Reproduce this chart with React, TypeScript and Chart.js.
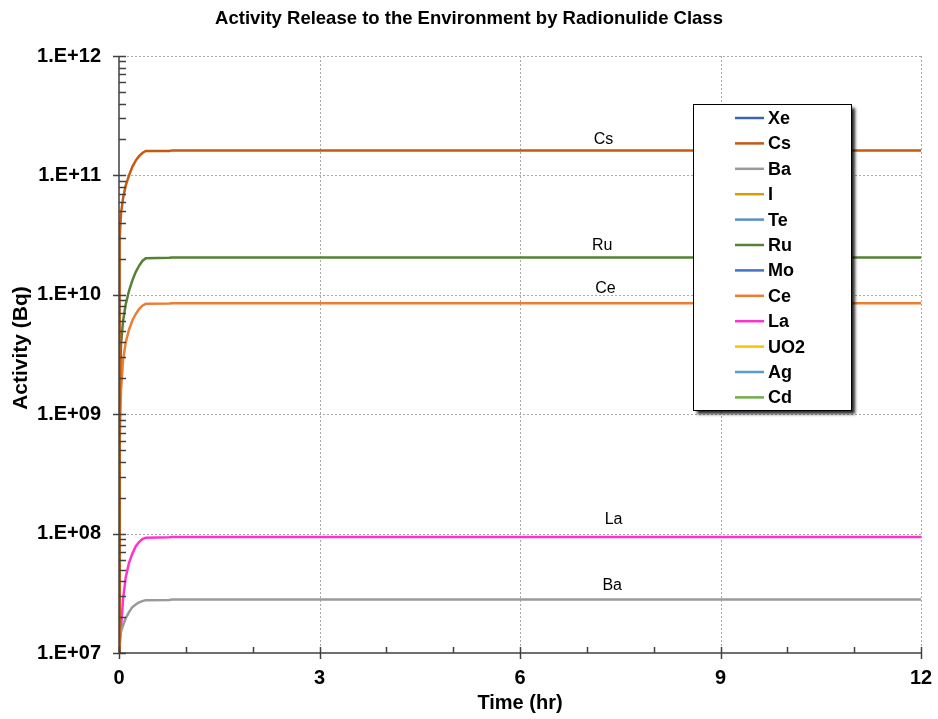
import React, { useEffect, useRef } from "react";
import { Chart, registerables } from "chart.js";

Chart.register(...registerables);

const FONT = "'Liberation Sans', Arial, Helvetica, sans-serif";

const chartTitle = "Activity Release to the Environment by Radionulide Class";
const xAxisTitle = "Time (hr)";
const yAxisTitle = "Activity (Bq)";

const xTicks = [0, 3, 6, 9, 12];
const yTicks = [1e7, 1e8, 1e9, 1e10, 1e11, 1e12];

const timeHr = [0, 0.01, 0.03, 0.06, 0.1, 0.15, 0.2, 0.25, 0.3, 0.35, 0.4, 0.75, 0.8, 12];

const seriesNames = ["Xe", "Cs", "Ba", "I", "Te", "Ru", "Mo", "Ce", "La", "UO2", "Ag", "Cd"];
const seriesColors = [
  "#3B64B4", "#C55A11", "#9A9A9A", "#D4A000", "#5A8FCB", "#548235",
  "#4472C4", "#ED7D31", "#FF33CC", "#FFC000", "#5B9BD5", "#70AD47",
];

const xeValues: number[] = [];
const csValues = [1e7, 3.0e10, 4.8e10, 6.4e10, 8.2e10, 1.0e11, 1.18e11, 1.33e11, 1.45e11, 1.54e11, 1.6e11, 1.6e11, 1.62e11, 1.62e11];
const baValues = [1e7, 1.3e7, 1.5e7, 1.7e7, 1.95e7, 2.2e7, 2.42e7, 2.55e7, 2.65e7, 2.72e7, 2.77e7, 2.78e7, 2.8e7, 2.8e7];
const iValues: number[] = [];
const teValues: number[] = [];
const ruValues = [1e7, 1.5e9, 3.8e9, 6.0e9, 8.3e9, 1.08e10, 1.32e10, 1.55e10, 1.75e10, 1.92e10, 2.02e10, 2.04e10, 2.05e10, 2.05e10];
const moValues: number[] = [];
const ceValues = [1e7, 6e8, 1.6e9, 2.8e9, 4.0e9, 5.1e9, 6.1e9, 6.9e9, 7.6e9, 8.1e9, 8.4e9, 8.45e9, 8.5e9, 8.5e9];
const laValues = [1e7, 1.15e7, 1.6e7, 2.8e7, 4.3e7, 5.7e7, 6.8e7, 7.8e7, 8.5e7, 9.0e7, 9.25e7, 9.3e7, 9.35e7, 9.35e7];
const uo2Values: number[] = [];
const agValues: number[] = [];
const cdValues: number[] = [];

const seriesValues = [xeValues, csValues, baValues, iValues, teValues, ruValues, moValues, ceValues, laValues, uo2Values, agValues, cdValues];

const labelTexts = ["Cs", "Ru", "Ce", "La", "Ba"];
const labelTimes = [7.25, 7.23, 7.28, 7.4, 7.38];
const labelValues = [2.0e11, 2.6e10, 1.12e10, 1.32e8, 3.7e7];

const decorPlugin = {
  id: "decor",
  beforeDatasetsDraw(chart: any) {
    const { ctx, chartArea } = chart;
    const xs = chart.scales.x;
    const ys = chart.scales.y;
    ctx.save();
    ctx.strokeStyle = "#A8A8A8";
    ctx.lineWidth = 1;
    ctx.setLineDash([2, 2]);
    for (const v of yTicks) {
      if (v === yTicks[0]) continue;
      const y = Math.round(ys.getPixelForValue(v)) + 0.5;
      ctx.beginPath();
      ctx.moveTo(chartArea.left, y);
      ctx.lineTo(chartArea.right, y);
      ctx.stroke();
    }
    for (const v of xTicks) {
      if (v === xTicks[0]) continue;
      const x = Math.round(xs.getPixelForValue(v)) + 0.5;
      ctx.beginPath();
      ctx.moveTo(x, chartArea.top);
      ctx.lineTo(x, chartArea.bottom);
      ctx.stroke();
    }
    ctx.restore();
  },
  afterDatasetsDraw(chart: any) {
    const { ctx, chartArea } = chart;
    const xs = chart.scales.x;
    const ys = chart.scales.y;
    ctx.save();
    ctx.strokeStyle = "#404040";
    ctx.lineWidth = 1.5;
    ctx.setLineDash([]);
    const axX = chartArea.left;
    const axY = chartArea.bottom;
    ctx.beginPath();
    ctx.moveTo(axX, chartArea.top);
    ctx.lineTo(axX, axY);
    ctx.lineTo(chartArea.right, axY);
    ctx.stroke();
    for (let d = 0; d < yTicks.length; d++) {
      const v = yTicks[d];
      const y = Math.round(ys.getPixelForValue(v)) + 0.5;
      ctx.beginPath();
      ctx.moveTo(axX - 6, y);
      ctx.lineTo(axX + 7, y);
      ctx.stroke();
      if (d < yTicks.length - 1) {
        for (let m = 2; m <= 9; m++) {
          const ym = Math.round(ys.getPixelForValue(v * m)) + 0.5;
          ctx.beginPath();
          ctx.moveTo(axX, ym);
          ctx.lineTo(axX + 7, ym);
          ctx.stroke();
        }
      }
    }
    for (let h = 0; h <= 12; h++) {
      const x = Math.round(xs.getPixelForValue(h)) + 0.5;
      ctx.beginPath();
      if (h % 3 === 0) {
        ctx.moveTo(x, axY - 6);
        ctx.lineTo(x, axY + 6);
      } else {
        ctx.moveTo(x, axY - 6);
        ctx.lineTo(x, axY);
      }
      ctx.stroke();
    }
    ctx.fillStyle = "#000";
    ctx.font = `16px ${FONT}`;
    ctx.textAlign = "center";
    ctx.textBaseline = "middle";
    for (let i = 0; i < labelTexts.length; i++) {
      ctx.fillText(labelTexts[i], xs.getPixelForValue(labelTimes[i]), ys.getPixelForValue(labelValues[i]));
    }
    ctx.font = `bold 18.5px ${FONT}`;
    ctx.fillText(chartTitle, 469, 19);

    // y axis title
    ctx.save();
    ctx.translate(21, 348);
    ctx.rotate(-Math.PI / 2);
    ctx.font = `bold 21px ${FONT}`;
    ctx.fillText(yAxisTitle, 0, 0);
    ctx.restore();

    const lx = 693, ly = 104, lw = 158, lh = 306;
    ctx.save();
    ctx.shadowColor = "rgba(0,0,0,0.85)";
    ctx.shadowOffsetX = 4;
    ctx.shadowOffsetY = 4;
    ctx.shadowBlur = 3;
    ctx.fillStyle = "#fff";
    ctx.fillRect(lx, ly, lw, lh);
    ctx.restore();
    ctx.strokeStyle = "#000";
    ctx.lineWidth = 1;
    ctx.strokeRect(lx + 0.5, ly + 0.5, lw, lh);
    ctx.font = `bold 18px ${FONT}`;
    ctx.textAlign = "left";
    ctx.textBaseline = "middle";
    const datasets = chart.data.datasets;
    for (let i = 0; i < datasets.length; i++) {
      const y = ly + 14 + i * 25.4;
      ctx.strokeStyle = datasets[i].borderColor;
      ctx.lineWidth = 2.5;
      ctx.beginPath();
      ctx.moveTo(735, y);
      ctx.lineTo(764, y);
      ctx.stroke();
      ctx.fillStyle = "#000";
      ctx.fillText(datasets[i].label, 768, y + 1);
    }
    ctx.restore();
  },
};

export default function App() {
  const ref = useRef<HTMLCanvasElement | null>(null);
  useEffect(() => {
    if (!ref.current) return;
    const datasets = seriesNames.map((name, i) => ({
      label: name,
      data: seriesValues[i].map((v, k) => ({ x: timeHr[k], y: v })),
      borderColor: seriesColors[i],
      backgroundColor: seriesColors[i],
      borderWidth: 2.5,
      pointRadius: 0,
      tension: 0,
      fill: false,
    }));
    const chart = new Chart(ref.current, {
      type: "line",
      data: { datasets },
      options: {
        animation: false,
        responsive: true,
        maintainAspectRatio: false,
        layout: { padding: { top: 56, right: 17, left: 0, bottom: 0 } },
        plugins: { legend: { display: false }, title: { display: false }, tooltip: { enabled: false } },
        scales: {
          x: {
            type: "linear",
            min: 0,
            max: 12,
            afterBuildTicks: (s: any) => { s.ticks = xTicks.map((v) => ({ value: v })); },
            afterFit: (s: any) => { s.height = 66; s.paddingLeft = 0; s.paddingRight = 0; },
            grid: { display: false, drawTicks: false },
            border: { display: false },
            ticks: { color: "#000", font: { family: FONT, size: 20, weight: "bold" }, padding: 13, maxRotation: 0 },
            title: { display: true, text: xAxisTitle, color: "#000", font: { family: FONT, size: 20, weight: "bold" }, padding: { bottom: 4, top: 0 } },
          },
          y: {
            type: "logarithmic",
            min: 1e7,
            max: 1e12,
            afterBuildTicks: (s: any) => { s.ticks = yTicks.map((v) => ({ value: v, major: true })); },
            afterFit: (s: any) => { s.width = 119; s.paddingTop = 0; s.paddingBottom = 0; },
            grid: { display: false, drawTicks: false },
            border: { display: false },
            ticks: {
              color: "#000",
              font: { family: FONT, size: 20, weight: "bold" },
              padding: 18,
              callback: (v: any) => "1.E+" + String(Math.round(Math.log10(Number(v)))).padStart(2, "0"),
            },
            title: { display: false },
          },
        },
      },
      plugins: [decorPlugin],
    });
    return () => chart.destroy();
  }, []);
  return (
    <div style={{ position: "absolute", left: 0, top: 0, width: 938, height: 719, background: "#fff" }}>
      <canvas ref={ref} />
    </div>
  );
}
